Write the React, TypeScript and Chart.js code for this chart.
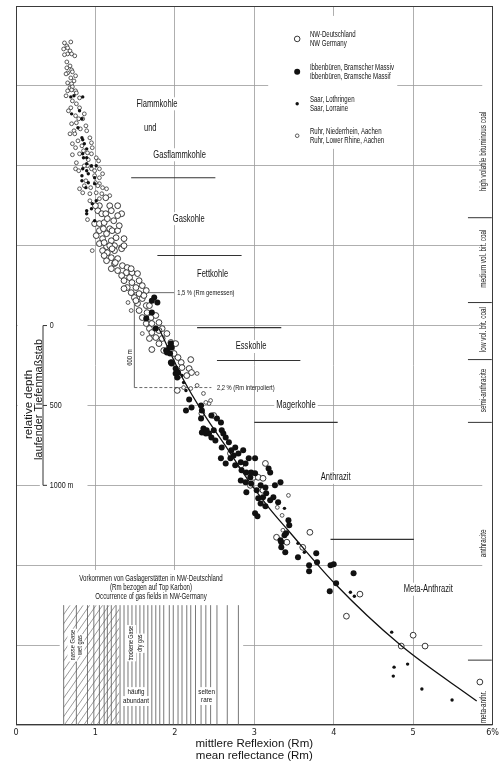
import React, { useEffect, useRef } from "react";
import { Chart, registerables } from "chart.js";

Chart.register(...registerables);

// ---------------- data ----------------
const xTickValues = [0, 1, 2, 3, 4, 5, 6];
const xTickLabels = ["0", "1", "2", "3", "4", "5", "6%"];
const depthTicks = [0, 500, 1000];
const depthTickLabels = ["0", "500", "1000 m"];

// [Rm %, relative depth m]
const ruhrPoints: [number, number][] = [
  [0.61, -1769], [0.69, -1775], [0.64, -1750], [0.65, -1738], [0.6, -1731], [0.68, -1719], [0.65, -1700], [0.7, -1700],
  [0.74, -1688], [0.61, -1695], [0.64, -1650], [0.68, -1625], [0.64, -1613], [0.7, -1600], [0.65, -1581], [0.71, -1588],
  [0.63, -1575], [0.75, -1563], [0.69, -1550], [0.73, -1531], [0.65, -1519], [0.7, -1513], [0.68, -1488], [0.71, -1494],
  [0.65, -1469], [0.7, -1475], [0.75, -1469], [0.76, -1456], [0.71, -1406], [0.76, -1388], [0.69, -1363], [0.8, -1363],
  [0.75, -1313], [0.86, -1325], [0.7, -1263], [0.76, -1269], [0.88, -1250], [0.73, -1219], [0.89, -1219], [0.68, -1200],
  [0.74, -1200], [0.93, -1175], [0.78, -1156], [0.71, -1138], [0.95, -1144], [0.75, -1113], [0.96, -1113], [0.71, -1069],
  [0.8, -1075], [0.95, -1075], [0.91, -1038], [1.01, -1050], [0.76, -1019], [1.04, -1031], [1.05, -981], [0.75, -981],
  [0.79, -969], [0.95, -981], [1.09, -950], [1.05, -925], [0.88, -906], [0.8, -856], [0.94, -863], [1.05, -888],
  [1.09, -863], [0.84, -831], [0.93, -825], [1.01, -831], [1.08, -825], [1.14, -856], [0.8, -1425], [0.84, -1294],
  [0.81, -1231], [0.85, -1094], [0.99, -938], [0.9, -1000], [1.0, -894], [0.86, -875], [0.9, -663], [0.93, -781],
  [1.05, -794], [0.96, -469], [1.41, -144], [1.45, -94], [1.59, 50], [2.28, 300], [2.11, 388], [2.2, 394],
  [2.28, 375], [2.43, 488], [2.45, 469], [2.36, 425], [2.39, 481], [3.43, 1063], [3.35, 1188], [3.29, 1138], [3.36, 1281],
  [0.63, -1438], [0.66, -1344], [0.79, -1294], [0.83, -1125], [0.9, -1081], [0.86, -1000], [0.99, -969], [1.03, -875],
  [1.18, -813],
];

const nwPoints: [number, number][] = [
  [1.13, -800], [1.18, -750], [1.05, -750], [1.03, -719], [1.08, -700], [1.13, -700], [1.23, -656], [0.99, -638],
  [1.05, -638], [1.11, -644], [1.18, -606], [1.05, -594], [1.14, -575], [1.21, -594], [1.28, -594], [1.09, -544],
  [1.2, -531], [1.26, -550], [1.33, -488], [1.24, -500], [1.14, -494], [1.33, -700], [1.05, -513], [1.11, -519],
  [1.18, -500], [1.09, -469], [1.15, -456], [1.24, -469], [1.33, -481], [1.36, -500], [1.2, -425], [1.28, -419],
  [1.14, -406], [1.24, -388], [1.34, -375], [1.4, -363], [1.28, -344], [1.39, -331], [1.46, -331], [1.33, -313],
  [1.43, -300], [1.53, -325], [1.36, -281], [1.46, -269], [1.55, -281], [1.4, -238], [1.51, -238], [1.59, -250],
  [1.45, -206], [1.55, -200], [1.64, -219], [1.49, -175], [1.59, -169], [1.53, -138], [1.64, -125], [1.55, -94],
  [1.65, -81], [1.7, -50], [1.59, -50], [1.76, -63], [1.64, -13], [1.71, -13], [1.8, -19], [1.68, 19], [1.84, 19],
  [1.71, 44], [1.8, 31], [1.68, 81], [1.76, 75], [1.84, 81], [1.9, 50], [1.71, 150], [1.8, 113], [1.86, 156],
  [1.95, 106], [2.01, 113], [1.99, 175], [2.04, 200], [2.08, 231], [1.96, 231], [2.2, 213], [2.09, 263], [2.18, 269],
  [2.21, 294], [2.15, 313], [2.05, 313], [2.03, 406], [2.49, 563], [2.34, 550], [2.7, 800], [3.14, 863], [2.99, 950],
  [3.05, 950], [3.11, 956], [2.95, 1000], [3.11, 1031], [2.83, 875], [3.28, 1325], [3.41, 1356], [3.61, 1388],
  [3.7, 1294], [4.33, 1681], [4.16, 1819], [4.85, 2006], [5.0, 1938], [5.15, 2006], [5.84, 2231],
  [1.0, -750], [1.2, -719], [1.28, -688], [1.15, -669], [1.3, -625], [1.01, -563], [1.21, -481], [1.1, -606],
  [1.36, -544], [1.28, -750], [1.11, -438], [1.25, -394], [1.45, -356], [1.2, -356], [1.36, -231], [1.61, -188],
  [1.68, -125], [1.51, -156],
];

const saarPoints: [number, number][] = [
  [0.69, -1431], [0.73, -1438], [0.84, -1431], [0.7, -1325], [0.8, -1344], [0.83, -1294], [0.78, -1238], [0.83, -1175],
  [0.84, -1163], [0.86, -1138], [0.89, -1106], [0.84, -1075], [0.85, -1050], [0.89, -1050], [0.89, -1013], [0.95, -1000],
  [1.01, -1000], [0.84, -981], [0.89, -969], [0.83, -938], [0.91, -950], [0.83, -906], [0.99, -925], [0.91, -894],
  [0.99, -888], [0.88, -863], [1.01, -781], [0.96, -763], [0.89, -719], [0.95, -731], [0.99, -656], [0.89, -700],
  [1.7, -75], [2.09, 313], [2.11, 356], [2.14, 406], [3.38, 1144], [3.55, 1363], [3.63, 1419], [4.21, 1669],
  [4.26, 1694], [4.73, 1919], [4.76, 2138], [4.75, 2194], [4.93, 2119], [5.11, 2275], [5.49, 2344],
];

const ibbPoints: [number, number][] = [
  [1.74, -175], [1.78, -144], [1.71, -156], [1.64, -44], [1.71, -81], [1.76, 19], [1.93, 138], [1.89, 156],
  [1.95, 113], [1.96, 238], [2.01, 300], [2.03, 325], [1.9, 169], [1.94, 175], [1.96, 138], [1.95, 231],
  [2.01, 269], [2.04, 294], [2.18, 463], [2.21, 513], [2.33, 500], [2.14, 531], [2.34, 531], [2.33, 581],
  [2.46, 563], [2.53, 581], [2.58, 606], [2.36, 644], [2.34, 669], [2.39, 675], [2.43, 675], [2.4, 656],
  [2.49, 656], [2.59, 656], [2.46, 700], [2.64, 700], [2.51, 719], [2.68, 731], [2.59, 763], [2.61, 675],
  [2.71, 781], [2.76, 763], [2.74, 813], [2.8, 800], [2.86, 781], [2.7, 831], [2.58, 831], [2.64, 863],
  [2.76, 875], [2.83, 856], [2.89, 863], [2.84, 906], [2.9, 919], [3.01, 831], [3.01, 925], [2.95, 950],
  [2.83, 969], [2.89, 981], [2.96, 988], [3.08, 1000], [3.14, 1013], [3.03, 1031], [2.9, 1044], [3.2, 919],
  [3.18, 894], [3.33, 981], [3.26, 1000], [3.15, 1050], [3.24, 1075], [3.11, 1075], [3.2, 1094], [3.3, 1106],
  [3.08, 1113], [2.93, 831], [2.96, 919], [3.05, 1081], [3.01, 1175], [3.04, 1194], [3.14, 1131], [3.33, 1344],
  [3.34, 1356], [3.38, 1313], [3.4, 1300], [3.34, 1388], [3.39, 1419], [3.43, 1219], [3.44, 1250], [3.55, 1450],
  [3.69, 1500], [3.69, 1538], [3.78, 1425], [3.79, 1481], [3.95, 1663], [3.96, 1500], [4.0, 1494], [4.03, 1613],
  [4.25, 1550],
];

const trendPoints: [number, number][] = [
  [1.8, 19], [2.1, 331], [2.36, 550], [2.675, 781], [2.925, 969], [3.19, 1144], [3.425, 1281], [4.01, 1613],
  [4.84, 2000], [5.8, 2350],
];

// coal type names [text, Rm, depth]
const coalNames: [string, number, number][] = [
  ["Flammkohle", 1.775, -1388], ["und", 1.69, -1238], ["Gasflammkohle", 2.06, -1069], ["Gaskohle", 2.175, -669],
  ["Fettkohle", 2.475, -319], ["Esskohle", 2.96, 131], ["Magerkohle", 3.525, 500], ["Anthrazit", 4.025, 950],
  ["Meta-Anthrazit", 5.19, 1650],
];
// boundary bars [Rm from, Rm to, depth]
const coalBounds: [number, number, number][] = [
  [1.45, 2.51, -925], [1.78, 2.84, -438], [2.28, 3.34, 13], [2.53, 3.58, 219], [3.0, 4.05, 606], [3.96, 5.01, 1338],
];
// rank strip
const rankTicks = [-675, -144, 213, 606, 2094];
const rankNames: [string, number][] = [
  ["high volatile bituminous coal", -1090], ["medium vol. bit. coal", -419], ["low vol. bit. coal", 25],
  ["semi-anthracite", 406], ["anthracite", 1363], ["meta-anthr.", 2388],
];
// gas field occurrence lines (Rm)
const gasLineRm = [
  0.6, 0.76, 0.9, 0.98, 1.05, 1.11, 1.15, 1.2, 1.26, 1.31, 1.36, 1.41, 1.46, 1.51, 1.56, 1.61, 1.66, 1.71,
  1.76, 1.81, 1.86, 1.93, 1.98, 2.04, 2.09, 2.15, 2.2, 2.26, 2.33, 2.39, 2.45, 2.53, 2.66, 2.8,
];
const wetGasRange = [0.6, 1.3];
const gasTopDepth = 1750;

const legendItems = [
  ["NW-Deutschland", "NW Germany"],
  ["Ibbenbüren, Bramscher Massiv", "Ibbenbüren, Bramsche Massif"],
  ["Saar, Lothringen", "Saar, Lorraine"],
  ["Ruhr, Niederrhein, Aachen", "Ruhr, Lower Rhine, Aachen"],
];
const legendDepths = [-1794, -1588, -1388, -1188];

// ---------------- drawing helpers ----------------
const FONT = "'Liberation Sans', Arial, sans-serif";

function drawText(
  ctx: CanvasRenderingContext2D,
  s: string,
  x: number,
  y: number,
  size: number,
  squeeze: number,
  opts: { align?: CanvasTextAlign; rot?: number; bg?: boolean; color?: string; pad?: number } = {}
) {
  const { align = "center", rot = 0, bg = false, color = "#141414", pad = 3 } = opts;
  ctx.save();
  ctx.translate(x, y);
  if (rot) ctx.rotate(rot);
  ctx.scale(squeeze, 1);
  ctx.font = `${size}px ${FONT}`;
  ctx.textAlign = align;
  ctx.textBaseline = "middle";
  if (bg) {
    const w = ctx.measureText(s).width;
    const x0 = align === "center" ? -w / 2 : align === "left" ? 0 : -w;
    ctx.fillStyle = "#fff";
    ctx.fillRect(x0 - pad / squeeze, -size * 0.62, w + (2 * pad) / squeeze, size * 1.24);
  }
  ctx.fillStyle = color;
  ctx.fillText(s, 0, 0);
  ctx.restore();
}

function seg(ctx: CanvasRenderingContext2D, x1: number, y1: number, x2: number, y2: number) {
  ctx.beginPath();
  ctx.moveTo(x1, y1);
  ctx.lineTo(x2, y2);
  ctx.stroke();
}

const overlay = {
  id: "overlay",
  beforeDraw(chart: any) {
    const ctx = chart.ctx;
    ctx.save();
    ctx.fillStyle = "#fff";
    ctx.fillRect(0, 0, chart.width, chart.height);
    ctx.restore();
  },
  beforeDatasetsDraw(chart: any) {
    const ctx: CanvasRenderingContext2D = chart.ctx;
    const X = (v: number) => chart.scales.x.getPixelForValue(v);
    const Y = (v: number) => chart.scales.y.getPixelForValue(v);
    const a = chart.chartArea;
    ctx.save();

    const mask = (r1: number, r2: number, d1: number, d2: number) => {
      ctx.fillStyle = "#fff";
      ctx.fillRect(X(r1), Y(d1), X(r2) - X(r1), Y(d2) - Y(d1));
    };
    mask(3.175, 4.8, -1938, -1106);
    mask(0.55, 2.86, 1530, 2500);
    mask(5.87, 6, -2000, 2500);
    mask(0.02, 0.9, -30, 960);
    mask(0.3, 0.9, 960, 1030);

    // frame
    ctx.strokeStyle = "#3a3a3a";
    ctx.lineWidth = 1;
    ctx.strokeRect(Math.round(a.left) + 0.5, Math.round(a.top) + 0.5, Math.round(a.right - a.left) - 1, Math.round(a.bottom - a.top) - 1);

    // coal boundary bars
    ctx.strokeStyle = "#333";
    ctx.lineWidth = 1.1;
    for (const [r1, r2, d] of coalBounds) seg(ctx, X(r1), Y(d), X(r2), Y(d));

    // coal names
    for (const [t, r, d] of coalNames) drawText(ctx, t, X(r), Y(d), 10.5, 0.72, { bg: true, pad: 2 });

    // rank strip
    ctx.strokeStyle = "#333";
    ctx.lineWidth = 1;
    for (const d of rankTicks) seg(ctx, X(5.69), Y(d), X(5.99), Y(d));
    for (const [t, d] of rankNames) drawText(ctx, t, X(5.89), Y(d), 8.5, 0.75, { rot: -Math.PI / 2 });

    // legend
    const lx = X(3.54);
    legendItems.forEach((lines, i) => {
      const ly = Y(legendDepths[i]);
      ctx.beginPath();
      if (i === 0) {
        ctx.arc(lx, ly, 2.8, 0, Math.PI * 2);
        ctx.fillStyle = "#fff";
        ctx.fill();
        ctx.strokeStyle = "#222";
        ctx.lineWidth = 0.9;
        ctx.stroke();
      } else if (i === 1) {
        ctx.arc(lx, ly, 3.0, 0, Math.PI * 2);
        ctx.fillStyle = "#111";
        ctx.fill();
      } else if (i === 2) {
        ctx.arc(lx, ly, 1.7, 0, Math.PI * 2);
        ctx.fillStyle = "#111";
        ctx.fill();
      } else {
        ctx.arc(lx, ly, 1.8, 0, Math.PI * 2);
        ctx.fillStyle = "#fff";
        ctx.fill();
        ctx.strokeStyle = "#333";
        ctx.lineWidth = 0.8;
        ctx.stroke();
      }
      drawText(ctx, lines[0], X(3.7), ly - 4.6, 9.5, 0.64, { align: "left" });
      drawText(ctx, lines[1], X(3.7), ly + 4.6, 9.5, 0.64, { align: "left" });
    });

    // depth scale
    ctx.strokeStyle = "#333";
    ctx.lineWidth = 1;
    const sx = X(0.34);
    seg(ctx, sx, Y(depthTicks[0]), sx, Y(depthTicks[depthTicks.length - 1]));
    depthTicks.forEach((d, i) => {
      seg(ctx, sx, Y(d), sx + 4, Y(d));
      drawText(ctx, depthTickLabels[i], X(0.425), Y(d), 9.5, 0.75, { align: "left" });
    });
    drawText(ctx, "relative depth", X(0.16), Y(494), 11.5, 1, { rot: -Math.PI / 2 });
    drawText(ctx, "laufender Tiefenmaßstab", X(0.29), Y(463), 11.5, 0.95, { rot: -Math.PI / 2 });

    // 600 m bracket
    ctx.strokeStyle = "#444";
    ctx.lineWidth = 0.8;
    seg(ctx, X(1.49), Y(-206), X(1.49), Y(388));
    seg(ctx, X(1.49), Y(-206), X(1.99), Y(-206));
    ctx.setLineDash([3, 2]);
    seg(ctx, X(1.49), Y(388), X(2.46), Y(388));
    ctx.setLineDash([]);
    drawText(ctx, "1,5 % (Rm gemessen)", X(2.03), Y(-206), 8, 0.72, { align: "left" });
    drawText(ctx, "2,2 % (Rm interpoliert)", X(2.53), Y(388), 8, 0.72, { align: "left" });
    drawText(ctx, "600 m", X(1.43), Y(200), 8, 0.75, { rot: -Math.PI / 2 });

    // gas fields
    const gTop = Y(gasTopDepth);
    const gBot = Y(2500);
    ctx.strokeStyle = "#555";
    ctx.lineWidth = 0.8;
    for (const r of gasLineRm) seg(ctx, X(r), gTop, X(r), gBot);
    ctx.save();
    ctx.beginPath();
    ctx.rect(X(wetGasRange[0]), gTop, X(wetGasRange[1]) - X(wetGasRange[0]), gBot - gTop);
    ctx.clip();
    ctx.lineWidth = 0.6;
    const h = gBot - gTop;
    const dx = h * 0.7;
    for (let x = X(wetGasRange[0]) - dx; x < X(wetGasRange[1]); x += 6.5) seg(ctx, x, gBot, x + dx, gTop);
    ctx.restore();

    drawText(ctx, "Vorkommen von Gaslagerstätten in NW-Deutschland", X(1.7), Y(1581), 9, 0.68);
    drawText(ctx, "(Rm bezogen auf Top Karbon)", X(1.7), Y(1638), 9, 0.68);
    drawText(ctx, "Occurrence of gas fields in NW-Germany", X(1.7), Y(1694), 9, 0.68);
    drawText(ctx, "nasse Gase", X(0.71), Y(2000), 8, 0.72, { rot: -Math.PI / 2, bg: true, pad: 1 });
    drawText(ctx, "wet gas", X(0.8), Y(2000), 8, 0.72, { rot: -Math.PI / 2, bg: true, pad: 1 });
    drawText(ctx, "trockene Gase", X(1.45), Y(1988), 8, 0.66, { rot: -Math.PI / 2, bg: true, pad: 1 });
    drawText(ctx, "dry gas", X(1.56), Y(1988), 8, 0.66, { rot: -Math.PI / 2, bg: true, pad: 1 });
    drawText(ctx, "häufig", X(1.51), Y(2294), 8, 0.78, { bg: true, pad: 1 });
    drawText(ctx, "abundant", X(1.51), Y(2350), 8, 0.78, { bg: true, pad: 1 });
    drawText(ctx, "selten", X(2.4), Y(2294), 8, 0.78, { bg: true, pad: 1 });
    drawText(ctx, "rare", X(2.4), Y(2344), 8, 0.78, { bg: true, pad: 1 });

    ctx.restore();
  },
};

const toXY = (pts: [number, number][]) => pts.map(([x, y]) => ({ x, y }));

export default function App() {
  const ref = useRef<HTMLCanvasElement>(null);
  useEffect(() => {
    document.body.style.margin = "0";
    const canvas = ref.current!;
    const chart = new Chart(canvas, {
      type: "scatter",
      data: {
        datasets: [
          {
            label: "trend",
            data: toXY(trendPoints),
            showLine: true,
            pointRadius: 0,
            borderColor: "#111",
            borderWidth: 1.3,
            tension: 0.4,
            cubicInterpolationMode: "monotone",
            fill: false,
            order: 0,
          } as any,
          {
            label: "Ibbenbüren",
            data: toXY(ibbPoints),
            pointRadius: 3.0,
            backgroundColor: "#111",
            borderColor: "#111",
            borderWidth: 0,
            order: 1,
          },
          {
            label: "Saar",
            data: toXY(saarPoints),
            pointRadius: 1.7,
            backgroundColor: "#111",
            borderColor: "#111",
            borderWidth: 0,
            order: 2,
          },
          {
            label: "NW",
            data: toXY(nwPoints),
            pointRadius: 2.9,
            backgroundColor: "#fff",
            borderColor: "#222",
            borderWidth: 0.9,
            order: 3,
          },
          {
            label: "Ruhr",
            data: toXY(ruhrPoints),
            pointRadius: 1.9,
            backgroundColor: "#fff",
            borderColor: "#333",
            borderWidth: 0.8,
            order: 4,
          },
        ],
      },
      options: {
        responsive: false,
        animation: false,
        events: [],
        layout: { padding: { left: 16, right: 5, top: 6, bottom: 0 } },
        plugins: { legend: { display: false }, tooltip: { enabled: false } },
        scales: {
          x: {
            type: "linear",
            min: 0,
            max: 6,
            afterFit: (s: any) => {
              s.height = 37;
            },
            border: { display: false },
            grid: { color: "#9a9a9a", lineWidth: 0.8, drawTicks: false },
            ticks: {
              stepSize: 1,
              padding: 2,
              autoSkip: false,
              maxRotation: 0,
              color: "#222",
              font: { family: "'DejaVu Sans Condensed', 'Liberation Sans Narrow', sans-serif", size: 9 },
              callback: (v: any) => {
                const i = xTickValues.indexOf(Number(v));
                return i >= 0 ? xTickLabels[i] : "";
              },
            },
            title: {
              display: true,
              text: ["mittlere Reflexion (Rm)", "mean reflectance (Rm)"],
              color: "#141414",
              font: { family: FONT, size: 11.5, lineHeight: 1.05 },
              padding: 0,
            },
          },
          y: {
            type: "linear",
            reverse: true,
            min: -2000,
            max: 2500,
            afterFit: (s: any) => {
              s.width = 0;
            },
            border: { display: false },
            grid: { color: "#9a9a9a", lineWidth: 0.8, drawTicks: false },
            ticks: { display: false, stepSize: 500 },
          },
        },
      } as any,
      plugins: [overlay],
    });
    return () => chart.destroy();
  }, []);
  return (
    <div style={{ width: 501, height: 762, background: "#fff" }}>
      <canvas ref={ref} width={501} height={762} style={{ display: "block" }} />
    </div>
  );
}
